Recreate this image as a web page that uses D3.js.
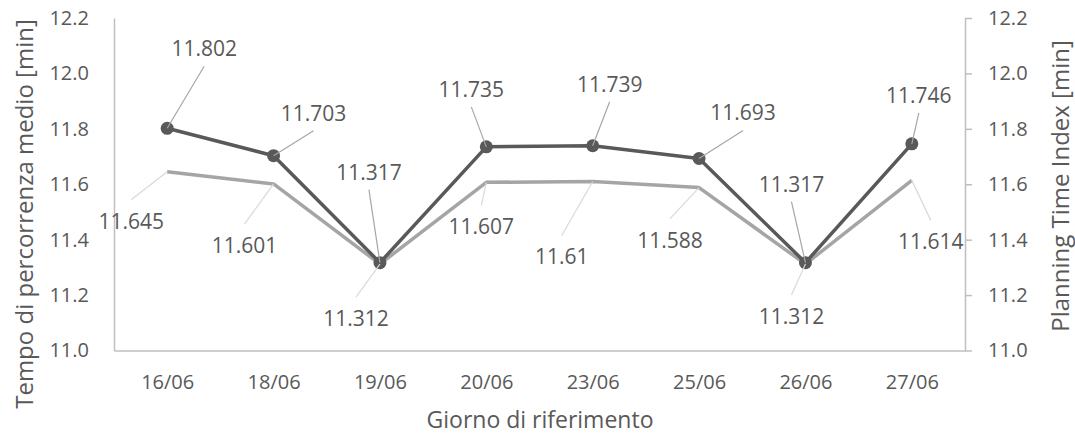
<!DOCTYPE html>
<html>
<head>
<meta charset="utf-8">
<script src="https://cdn.jsdelivr.net/npm/d3@7"></script>
<style>
  html, body { margin: 0; padding: 0; background: #ffffff; }
  svg { display: block; }
  text { font-family: "Open Sans", "Noto Sans", sans-serif; fill: #595959; }
</style>
</head>
<body>
<svg id="chart" width="1075" height="436"></svg>
<script>
// ---- data ----
const categories = ["16/06", "18/06", "19/06", "20/06", "23/06", "25/06", "26/06", "27/06"];
const tempoMedio = [11.802, 11.703, 11.317, 11.735, 11.739, 11.693, 11.317, 11.746];
const planningTimeIndex = [11.645, 11.601, 11.312, 11.607, 11.61, 11.588, 11.312, 11.614];
const yTicks = [11.0, 11.2, 11.4, 11.6, 11.8, 12.0, 12.2];
const xTitle = "Giorno di riferimento";
const yLeftTitle = "Tempo di percorrenza medio [min]";
const yRightTitle = "Planning Time Index [min]";

// label placement (pixel offsets from each point), layout only
const darkLabelOffsets = [[37, -80], [40, -43], [-11, -91], [-15, -58], [17, -62], [44, -46], [-14, -79], [7, -49]];
const lightLabelOffsets = [[-36, 49], [-29, 61], [-24, 54], [-5, 44], [-31, 75], [-29, 52], [-14, 52], [19, 61]];

// ---- layout ----
const svg = d3.select("#chart");
const plotLeft = 114, plotRight = 965, plotTop = 18, plotBottom = 350.5;

const x = d3.scalePoint().domain(categories).range([plotLeft, plotRight]).padding(0.5);
const y = d3.scaleLinear().domain([11.0, 12.2]).range([plotBottom, plotTop]);
const y2 = d3.scaleLinear().domain([11.0, 12.2]).range([plotBottom, plotTop]);

const darkColor = "#595959", lightColor = "#a5a5a5", axisColor = "#bfbfbf";

// left axis (no tick marks)
const gL = svg.append("g").attr("transform", `translate(${plotLeft},0)`)
  .call(d3.axisLeft(y).tickValues(yTicks).tickSize(0).tickPadding(25).tickFormat(d3.format(".1f")));
gL.select(".domain").attr("stroke", axisColor).attr("stroke-width", 1.5);
gL.selectAll("text").style("font-size", "20px").attr("fill", "#595959").attr("font-family", "Open Sans");

// right axis with outward ticks
const gR = svg.append("g").attr("transform", `translate(${plotRight},0)`)
  .call(d3.axisRight(y2).tickValues(yTicks).tickSize(7).tickSizeOuter(0).tickPadding(16).tickFormat(d3.format(".1f")));
gR.select(".domain").attr("stroke", axisColor).attr("stroke-width", 1.5);
gR.selectAll(".tick line").attr("stroke", axisColor).attr("stroke-width", 1.5);
gR.selectAll("text").style("font-size", "20px").attr("fill", "#595959").attr("font-family", "Open Sans");

// bottom axis
const gB = svg.append("g").attr("transform", `translate(0,${plotBottom})`)
  .call(d3.axisBottom(x).tickSize(0).tickPadding(24));
gB.select(".domain").attr("stroke", axisColor).attr("stroke-width", 1.5);
gB.selectAll("text").style("font-size", "20px").attr("fill", "#595959").attr("font-family", "Open Sans");

// axis titles
svg.append("text").attr("x", 540).attr("y", 428).attr("text-anchor", "middle")
  .style("font-size", "23px").text(xTitle);
svg.append("text").attr("transform", "translate(33,214) rotate(-90)").attr("text-anchor", "middle")
  .style("font-size", "24px").text(yLeftTitle);
svg.append("text").attr("transform", "translate(1069,186) rotate(-90)").attr("text-anchor", "middle")
  .style("font-size", "24px").text(yRightTitle);

// lines
const lineGen = d3.line().x((d, i) => x(categories[i])).y(d => y(d));
const lineGen2 = d3.line().x((d, i) => x(categories[i])).y(d => y2(d));

svg.append("path").datum(planningTimeIndex).attr("d", lineGen2)
  .attr("fill", "none").attr("stroke", lightColor).attr("stroke-width", 3.5).attr("stroke-linejoin", "round");
svg.append("path").datum(tempoMedio).attr("d", lineGen)
  .attr("fill", "none").attr("stroke", darkColor).attr("stroke-width", 3.5).attr("stroke-linejoin", "round");

svg.selectAll("circle.m").data(tempoMedio).enter().append("circle")
  .attr("class", "m")
  .attr("cx", (d, i) => x(categories[i])).attr("cy", d => y(d)).attr("r", 6.5)
  .attr("fill", darkColor);

// data labels with leader lines
function labels(values, scale, offsets, leaderColor, above) {
  const g = svg.append("g");
  values.forEach((v, i) => {
    const px = x(categories[i]), py = scale(v);
    const lx = px + offsets[i][0], ly = py + offsets[i][1];
    const sy = above ? ly + 18 : ly - 21;
    g.append("line").attr("x1", lx).attr("y1", sy).attr("x2", px).attr("y2", py)
      .attr("stroke", leaderColor).attr("stroke-width", 1.2);
    g.append("text").attr("x", lx).attr("y", ly).attr("text-anchor", "middle")
      .attr("dominant-baseline", "central").style("font-size", "21px").text(String(v));
  });
}
labels(planningTimeIndex, y2, lightLabelOffsets, "#d9d9d9", false);
labels(tempoMedio, y, darkLabelOffsets, "#a6a6a6", true);
</script>
</body>
</html>
